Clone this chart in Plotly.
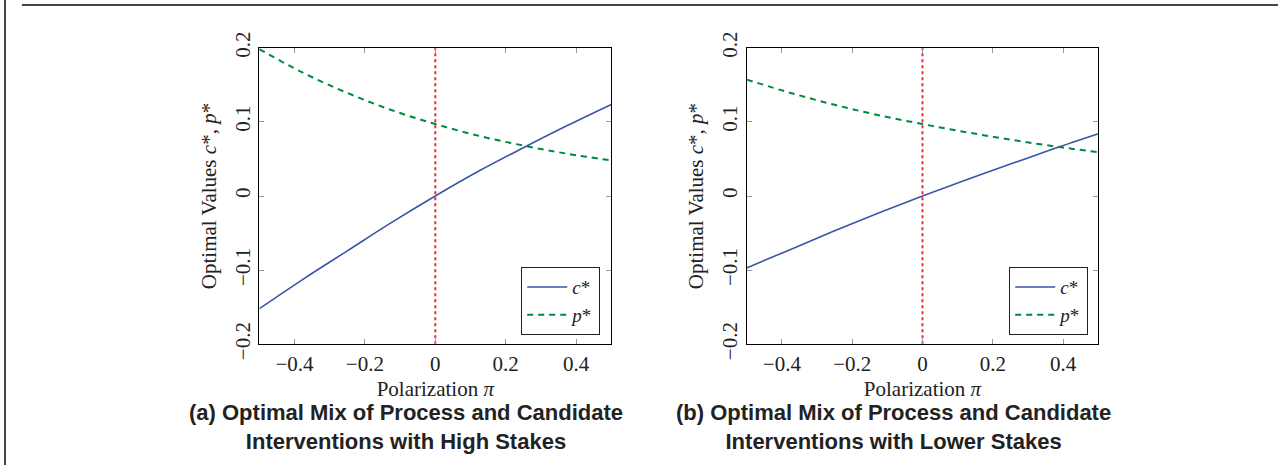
import plotly.graph_objects as go

# Data
pi_vals = [-0.5, -0.375, -0.25, -0.125, 0.0, 0.125, 0.25, 0.375, 0.5]
c_high = [-0.152, -0.112, -0.074, -0.036, 0.0, 0.034, 0.065, 0.095, 0.1235]
p_high = [0.198, 0.166, 0.139, 0.116, 0.097, 0.081, 0.068, 0.057, 0.048]
c_low = [-0.097, -0.072, -0.047, -0.023, 0.0, 0.022, 0.043, 0.064, 0.084]
p_low = [0.157, 0.139, 0.123, 0.109, 0.097, 0.086, 0.076, 0.067, 0.059]
x_ticks = [-0.4, -0.2, 0, 0.2, 0.4]
x_ticklabels = ["−0.4", "−0.2", "0", "0.2", "0.4"]
y_ticks = [-0.2, -0.1, 0, 0.1, 0.2]
y_ticklabels = ["−0.2", "−0.1", "0", "0.1", "0.2"]
ref_line_x = [0, 0]
ref_line_y = [-0.2, 0.2]
captions = [
    "(a) Optimal Mix of Process and Candidate<br>Interventions with High Stakes",
    "(b) Optimal Mix of Process and Candidate<br>Interventions with Lower Stakes",
]

BLUE = "#3A56A8"
GREEN = "#00883F"
RED = "#EE2A35"
SERIF = "Liberation Serif, Times New Roman, serif"
SANS = "Liberation Sans, Arial, Helvetica, sans-serif"

W, H = 1288, 465
fig = go.Figure()

panels = [
    ("x", "y", "legend", c_high, p_high),
    ("x2", "y2", "legend2", c_low, p_low),
]
for xa, ya, lg, cv, pv in panels:
    fig.add_trace(go.Scatter(x=ref_line_x, y=ref_line_y, xaxis=xa, yaxis=ya, mode="lines",
                             line=dict(color=RED, width=2, dash="dot"), showlegend=False,
                             hoverinfo="skip"))
    fig.add_trace(go.Scatter(x=pi_vals, y=cv, xaxis=xa, yaxis=ya, mode="lines",
                             line=dict(color=BLUE, width=1.6, shape="spline"),
                             name="<i>c</i>*", legend=lg))
    fig.add_trace(go.Scatter(x=pi_vals, y=pv, xaxis=xa, yaxis=ya, mode="lines",
                             line=dict(color=GREEN, width=2, dash="6px,5px", shape="spline"),
                             name="<i>p</i>*", legend=lg))

x_dom = [[259.3 / W, 611.3 / W], [746.7 / W, 1098.3 / W]]
y_dom = [(H - 344.3) / H, (H - 47.7) / H]

TXT = "#222"
common_x = dict(range=[-0.5, 0.5], tickvals=x_ticks, ticktext=x_ticklabels, ticks="inside",
                ticklen=5, tickcolor="#9a9a9a", showline=True, linecolor="black", linewidth=1.3,
                mirror="ticks", showgrid=False, zeroline=False, automargin=False,
                tickfont=dict(family=SERIF, size=21, color=TXT),
                title=dict(text="Polarization <i>π</i>", font=dict(family=SERIF, size=21, color=TXT),
                           standoff=6))
common_y = dict(range=[-0.2, 0.2], tickvals=y_ticks, ticktext=y_ticklabels, ticks="inside",
                ticklen=5, tickcolor="#9a9a9a", showline=True, linecolor="black", linewidth=1.3,
                mirror="ticks", showgrid=False, zeroline=False, tickangle=-90, automargin=False,
                tickfont=dict(family=SERIF, size=21, color=TXT),
                title=dict(text="Optimal Values <i>c</i>*, <i>p</i>*",
                           font=dict(family=SERIF, size=21, color=TXT), standoff=8))

legend_common = dict(bgcolor="white", bordercolor=TXT, borderwidth=1.2,
                     font=dict(family=SERIF, size=19, color=TXT), xanchor="right",
                     yanchor="bottom", tracegroupgap=0, itemwidth=40)

fig.update_layout(
    width=W, height=H,
    margin=dict(l=0, r=0, t=0, b=0, pad=0, autoexpand=False),
    paper_bgcolor="white", plot_bgcolor="white",
    xaxis=dict(domain=x_dom[0], anchor="y", **common_x),
    yaxis=dict(domain=y_dom, anchor="x", **common_y),
    xaxis2=dict(domain=x_dom[1], anchor="y2", **common_x),
    yaxis2=dict(domain=y_dom, anchor="x2", **common_y),
    legend=dict(x=600 / W, y=(H - 335) / H, **legend_common),
    legend2=dict(x=1088 / W, y=(H - 335) / H, **legend_common),
    showlegend=True,
)

# Page frame lines
fig.add_shape(type="line", xref="paper", yref="paper", x0=5 / W, x1=5 / W, y0=0, y1=1,
              line=dict(color="#444", width=2))
fig.add_shape(type="line", xref="paper", yref="paper", x0=22 / W, x1=1278 / W,
              y0=(H - 5) / H, y1=(H - 5) / H, line=dict(color="#444", width=2))

for cx, txt in zip([406, 893], captions):
    fig.add_annotation(x=cx / W, y=(H - 398) / H, xref="paper", yref="paper", text="<b>" + txt + "</b>",
                       showarrow=False, xanchor="center", yanchor="top", align="center",
                       font=dict(family=SANS, size=22, color=TXT))

fig.write_html("out.html", config={"displayModeBar": False},
               post_script="document.body.style.margin='0';")
